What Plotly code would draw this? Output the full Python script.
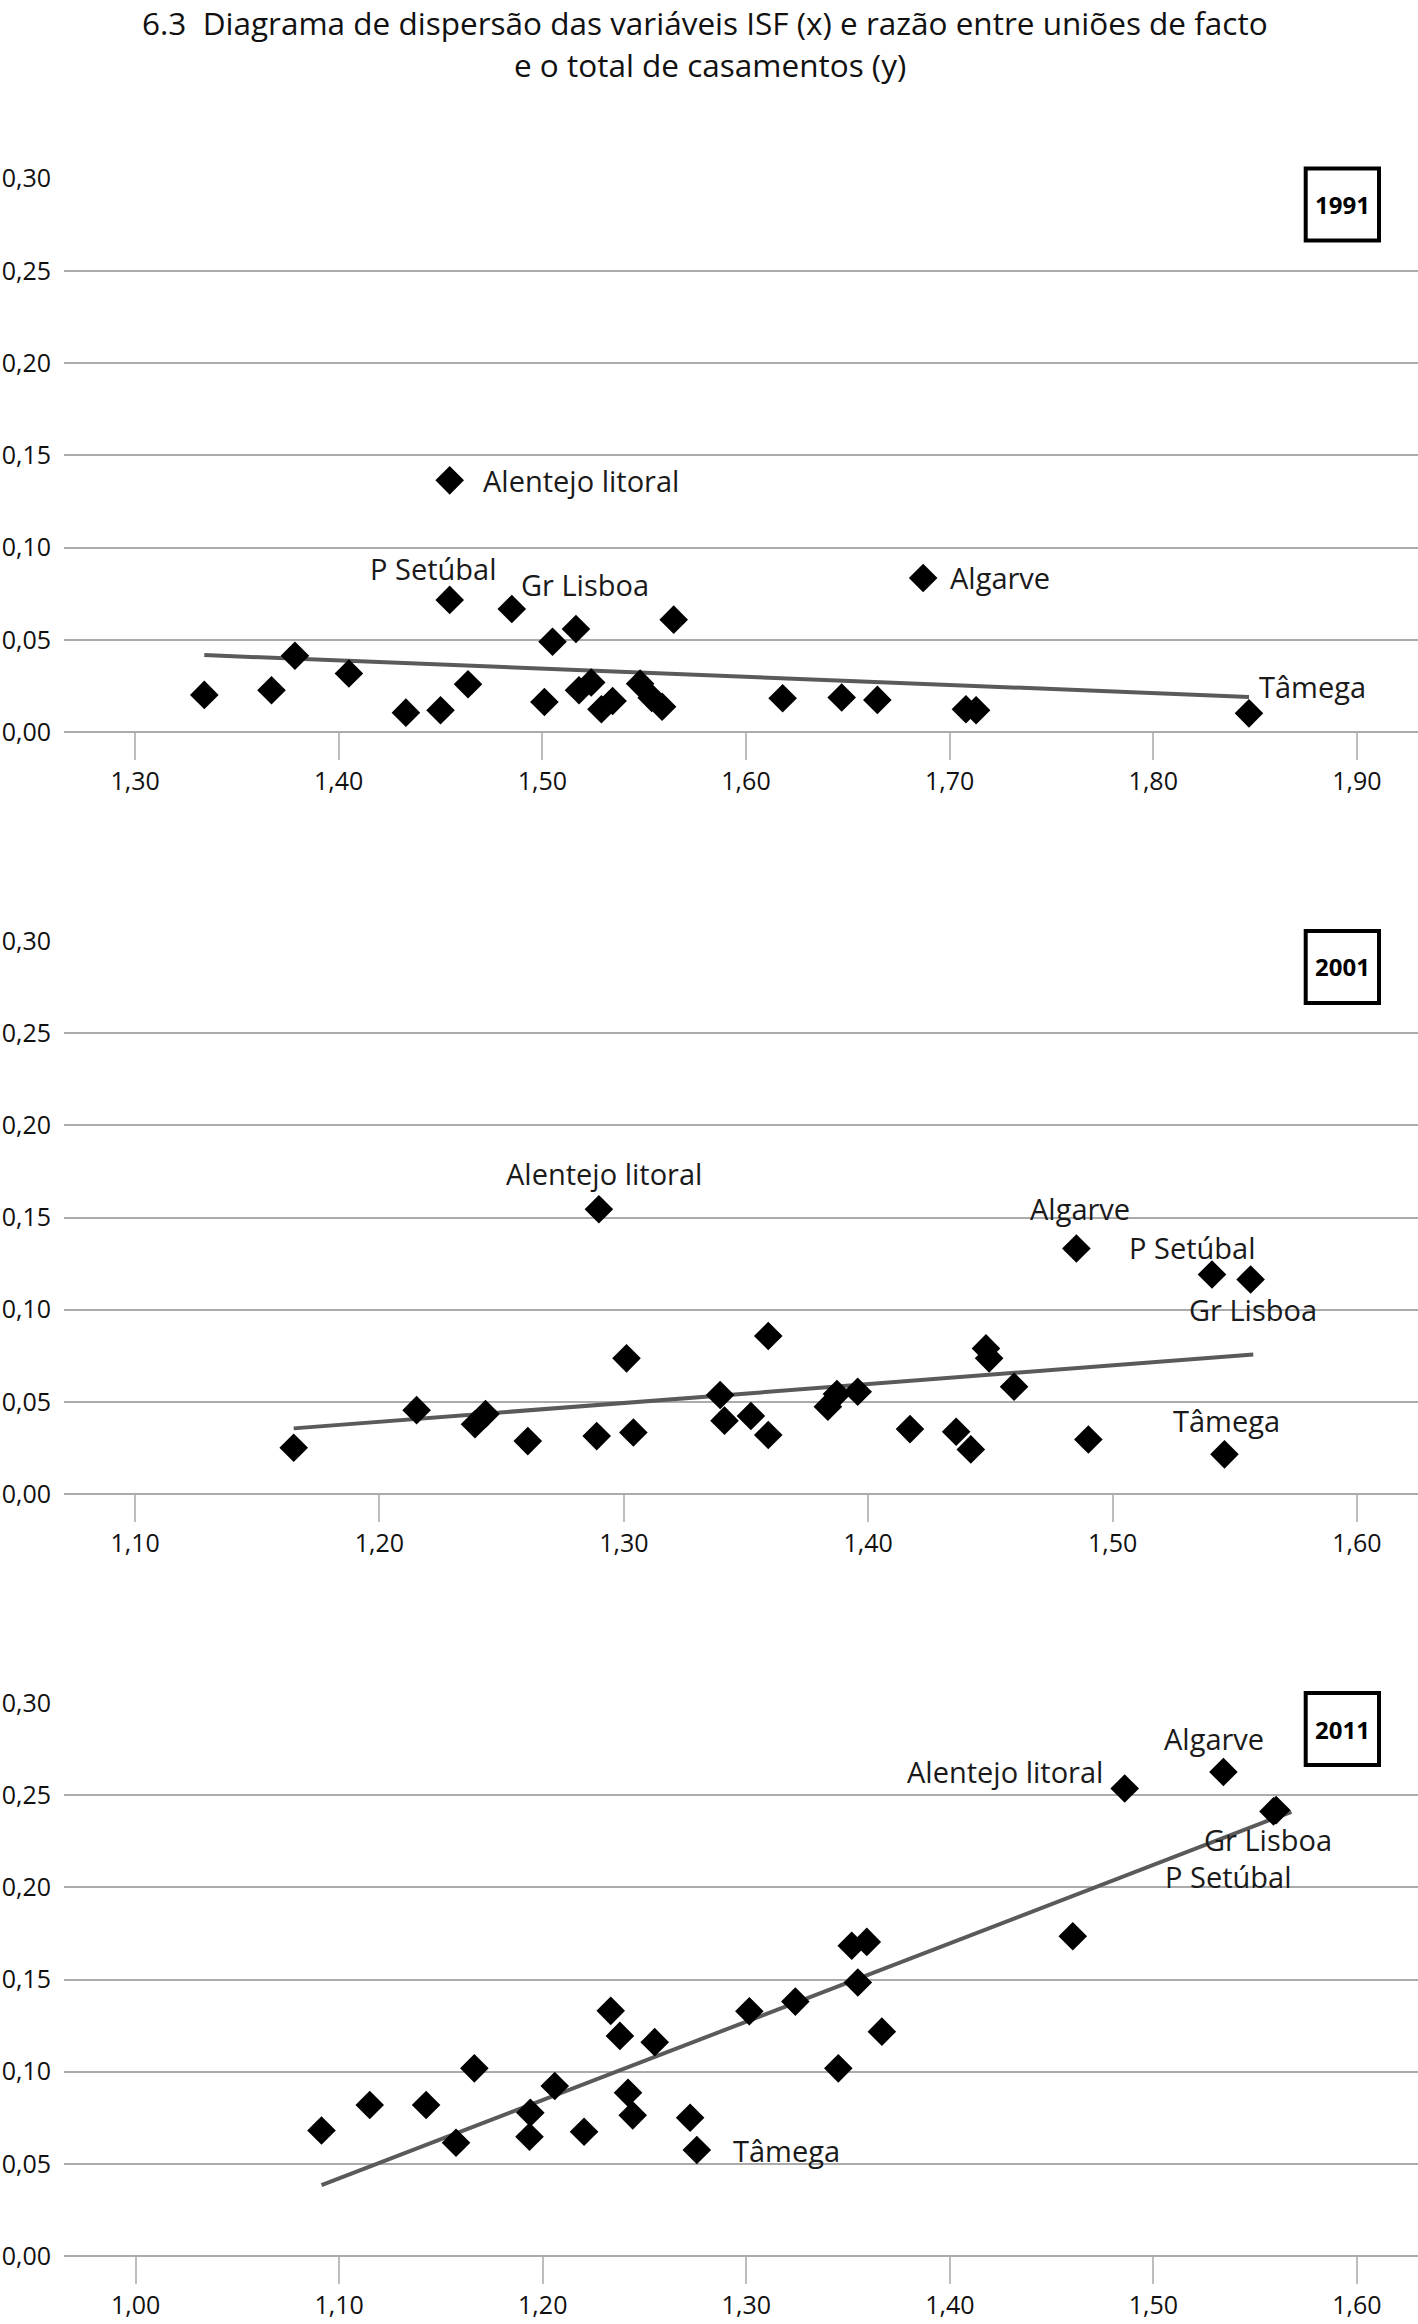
import plotly.graph_objects as go

# ---------------- data ----------------
isf_1991 = [1.334, 1.367, 1.3785, 1.405, 1.433, 1.450, 1.4545, 1.4545, 1.4635, 1.485,
            1.501, 1.505, 1.5165, 1.518, 1.524, 1.529, 1.5345, 1.548, 1.5537, 1.5588,
            1.5645, 1.618, 1.647, 1.6645, 1.687, 1.708, 1.713, 1.847]
ratio_1991 = [0.0201, 0.0226, 0.0413, 0.0317, 0.0105, 0.0118, 0.0716, 0.1364, 0.0259, 0.0667,
              0.0163, 0.0489, 0.0558, 0.0226, 0.0268, 0.0123, 0.0168, 0.0262, 0.0185, 0.0137,
              0.0609, 0.0183, 0.0187, 0.0174, 0.0835, 0.0123, 0.0118, 0.0101]
names_1991 = ["", "", "", "", "", "", "P Setúbal", "Alentejo litoral", "", "",
              "", "", "Gr Lisboa", "", "", "", "", "", "", "",
              "", "", "", "", "Algarve", "", "", "Tâmega"]
trend_x_1991 = [1.334, 1.847]
trend_y_1991 = [0.0417, 0.0190]

isf_2001 = [1.1649, 1.2152, 1.2391, 1.2434, 1.2607, 1.2889, 1.2898, 1.3011, 1.3039, 1.3394,
            1.3412, 1.3520, 1.3591, 1.3591, 1.3835, 1.3872, 1.3957, 1.4171, 1.4360, 1.4420,
            1.4482, 1.4495, 1.4597, 1.4852, 1.4901, 1.5407, 1.5458, 1.5565]
ratio_2001 = [0.0251, 0.0455, 0.0378, 0.0434, 0.0287, 0.0314, 0.1545, 0.0736, 0.0334, 0.0537,
              0.0398, 0.0423, 0.0320, 0.0857, 0.0474, 0.0542, 0.0555, 0.0352, 0.0338, 0.0242,
              0.0790, 0.0736, 0.0582, 0.1332, 0.0296, 0.1191, 0.0215, 0.1164]
names_2001 = ["", "", "", "", "", "", "Alentejo litoral", "", "", "",
              "", "", "", "", "", "", "", "", "", "",
              "", "", "", "Algarve", "", "P Setúbal", "Tâmega", "Gr Lisboa"]
trend_x_2001 = [1.1649, 1.5576]
trend_y_2001 = [0.0356, 0.0757]

isf_2011 = [1.0913, 1.1150, 1.1427, 1.1574, 1.1664, 1.1935, 1.1939, 1.2059, 1.2203, 1.2334,
            1.2379, 1.2419, 1.2442, 1.2550, 1.2724, 1.2757, 1.3015, 1.3241, 1.3452, 1.3518,
            1.3548, 1.3592, 1.3666, 1.4604, 1.4859, 1.5344, 1.5603, 1.5590]
ratio_2011 = [0.0681, 0.0819, 0.0819, 0.0614, 0.1018, 0.0647, 0.0777, 0.0922, 0.0674, 0.1330,
              0.1194, 0.0886, 0.0763, 0.1160, 0.0750, 0.0575, 0.1328, 0.1380, 0.1018, 0.1683,
              0.1484, 0.1704, 0.1217, 0.1735, 0.2536, 0.2626, 0.2419, 0.2412]
names_2011 = ["", "", "", "", "", "", "", "", "", "",
              "", "", "", "", "", "Tâmega", "", "", "", "",
              "", "", "", "", "Alentejo litoral", "Algarve", "Gr Lisboa", "P Setúbal"]
trend_x_2011 = [1.0913, 1.5678]
trend_y_2011 = [0.0384, 0.2410]

years = ["1991", "2001", "2011"]
y_ticks = [0.00, 0.05, 0.10, 0.15, 0.20, 0.25, 0.30]
x_ticks_1991 = [1.30, 1.40, 1.50, 1.60, 1.70, 1.80, 1.90]
x_ticks_2001 = [1.10, 1.20, 1.30, 1.40, 1.50, 1.60]
x_ticks_2011 = [1.00, 1.10, 1.20, 1.30, 1.40, 1.50, 1.60]

title_line1 = "6.3  Diagrama de dispersão das variáveis ISF (x) e razão entre uniões de facto"
title_line2 = "e o total de casamentos (y)"

# ---------------- layout / styling ----------------
W, H = 1418, 2324
LEFT = 64
FONT = "Open Sans"
GRID = "#ababab"

panels = [
    dict(x=isf_1991, y=ratio_1991, names=names_1991, tx=trend_x_1991, ty=trend_y_1991,
         ticks=x_ticks_1991, xrange=[1.2651, 1.9300], top=178.5, bottom=732.0,
         offsets={"Alentejo litoral": (31, 0, "left"), "P Setúbal": (-17, 31, "center"),
                  "Gr Lisboa": (9, 45, "center"), "Algarve": (25, 0, "left"),
                  "Tâmega": (64, 27, "center")}),
    dict(x=isf_2001, y=ratio_2001, names=names_2001, tx=trend_x_2001, ty=trend_y_2001,
         ticks=x_ticks_2001, xrange=[1.0709, 1.6250], top=941.0, bottom=1494.0,
         offsets={"Alentejo litoral": (5, 36, "center"), "Algarve": (4, 40, "center"),
                  "P Setúbal": (-20, 27, "center"), "Gr Lisboa": (2, -30, "center"),
                  "Tâmega": (2, 34, "center")}),
    dict(x=isf_2011, y=ratio_2011, names=names_2011, tx=trend_x_2011, ty=trend_y_2011,
         ticks=x_ticks_2011, xrange=[0.9648, 1.6300], top=1703.0, bottom=2256.0,
         offsets={"Alentejo litoral": (-20, 17, "right"), "Algarve": (-9, 33, "center"),
                  "Gr Lisboa": (-8, -29, "center"), "P Setúbal": (-45, -65, "center"),
                  "Tâmega": (34, 0, "left")}),
]

fig = go.Figure()
annotations = []
shapes = []
layout = {}

for i, p in enumerate(panels):
    n = "" if i == 0 else str(i + 1)
    xa, ya = "x" + n, "y" + n
    fig.add_trace(go.Scatter(x=p["tx"], y=p["ty"], mode="lines",
                             line=dict(color="#5a5a5a", width=4),
                             xaxis=xa, yaxis=ya, showlegend=False, hoverinfo="skip"))
    fig.add_trace(go.Scatter(x=p["x"], y=p["y"], mode="markers",
                             marker=dict(symbol="diamond", size=22, color="black",
                                         line=dict(width=0)),
                             xaxis=xa, yaxis=ya, showlegend=False))
    dom = [1 - p["bottom"] / H, 1 - p["top"] / H]
    layout["xaxis" + n] = dict(
        domain=[0, 1], range=p["xrange"], anchor=ya, tickvals=p["ticks"],
        tickformat=".2f", showgrid=False, zeroline=False, showline=False,
        ticks="outside", ticklen=27, tickwidth=1.5, tickcolor="#bdbdbd",
        ticklabelstandoff=0, tickfont=dict(family=FONT, size=25, color="#111111"),
        automargin=False, fixedrange=True)
    layout["yaxis" + n] = dict(
        domain=dom, range=[0, 0.30], anchor=xa, tickvals=y_ticks, tickformat=".2f",
        showgrid=True, gridcolor=GRID, gridwidth=2, zeroline=True, zerolinecolor=GRID,
        zerolinewidth=2, showline=False, ticks="", ticklabelstandoff=12,
        tickfont=dict(family=FONT, size=25, color="#111111"),
        automargin=False, fixedrange=True)
    # data labels
    for xv, yv, nm in zip(p["x"], p["y"], p["names"]):
        if not nm:
            continue
        dx, dy, anc = p["offsets"][nm]
        annotations.append(dict(x=xv, y=yv, xref=xa, yref=ya, text=nm, showarrow=False,
                                xanchor=anc, yanchor="middle", xshift=dx, yshift=dy,
                                font=dict(family=FONT, size=29, color="#1a1a1a")))
    # year box
    bx0, bx1 = 1305.7, 1379.0
    by0, by1 = p["top"] - 10, p["top"] + 62
    shapes.append(dict(type="rect", xref="paper", yref="paper",
                       x0=(bx0 - LEFT) / (W - LEFT), x1=(bx1 - LEFT) / (W - LEFT),
                       y0=1 - by1 / H, y1=1 - by0 / H,
                       line=dict(color="black", width=4), fillcolor="white", layer="above"))
    annotations.append(dict(x=((bx0 + bx1) / 2 - LEFT) / (W - LEFT), y=1 - ((by0 + by1) / 2) / H,
                            xref="paper", yref="paper", text="<b>" + years[i] + "</b>",
                            showarrow=False, xanchor="center", yanchor="middle",
                            font=dict(family=FONT, size=24, color="black")))

# title
annotations.append(dict(x=(705 - LEFT) / (W - LEFT), y=1 - 22 / H, xref="paper", yref="paper",
                        text=title_line1, showarrow=False, xanchor="center", yanchor="middle",
                        font=dict(family=FONT, size=31.5, color="#111111")))
annotations.append(dict(x=(710 - LEFT) / (W - LEFT), y=1 - 64 / H, xref="paper", yref="paper",
                        text=title_line2, showarrow=False, xanchor="center", yanchor="middle",
                        font=dict(family=FONT, size=31.5, color="#111111")))

fig.update_layout(
    width=W, height=H, autosize=False,
    margin=dict(l=LEFT, r=0, t=0, b=0),
    paper_bgcolor="white", plot_bgcolor="white",
    separators=", ",
    annotations=annotations, shapes=shapes,
    **layout,
)

fig.write_html("out.html",
               config={"displayModeBar": False},
               post_script="document.body.style.margin='0';document.body.style.overflow='hidden';")
